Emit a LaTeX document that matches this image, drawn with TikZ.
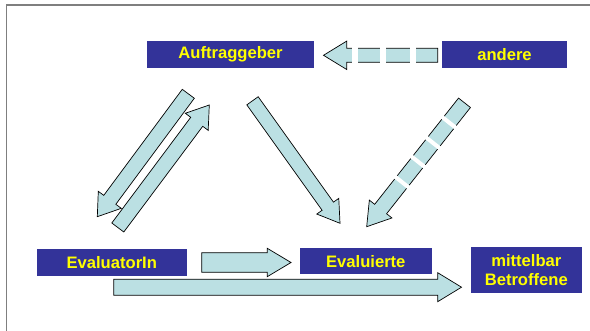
\documentclass[tikz,border=0pt]{standalone}
\usepackage{fontspec}
\setmainfont{Liberation Sans}
\usepackage{xcolor}
\usetikzlibrary{calc, positioning}

\definecolor{boxblue}{HTML}{333399}
\definecolor{boxtext}{HTML}{FFFF00}
\definecolor{arrowfill}{HTML}{BBE0E3}
\definecolor{framegray}{HTML}{7F7F7F}

% block arrow: [style]{from}{to}{shaft half width}{head half width}{head length}
\newcommand{\blockarrow}[6][]{%
  \path ($(#3)!#6!(#2)$) coordinate (hb);
  \draw[barrow, #1] ($(#2)!#4!90:(#3)$) -- ($(hb)!#4!-90:(#2)$) -- ($(hb)!#5!-90:(#2)$) -- (#3)
    -- ($(hb)!#5!90:(#2)$) -- ($(hb)!#4!90:(#2)$) -- ($(#2)!#4!-90:(#3)$) -- cycle;
}
% white gaps across a shaft: {from}{to}{half length}{gap width}{distances from tail}
\newcommand{\arrowgaps}[5]{%
  \foreach \d in {#5} {
    \draw[white, line width=#4] ($($(#1)!\d!(#2)$)!#3!90:(#2)$) -- ($($(#1)!\d!(#2)$)!#3!-90:(#2)$);
  }
}

\begin{document}
\begin{tikzpicture}[x=1pt, y=-1pt,
    box/.style={fill=boxblue, text=boxtext, font=\bfseries\fontsize{16.6}{18.7}\selectfont,
                inner sep=0pt, align=center},
    barrow/.style={fill=arrowfill, draw=black, line width=0.7pt, line join=miter}]
    \useasboundingbox (0,0) rectangle (590,331);

    % --- Frame ---
    \draw[framegray, line width=1.2pt] (6.7,331) -- (6.7,5) -- (590,5);

    % --- Boxes ---
    \node[box, minimum width=167pt, minimum height=27pt] (auftraggeber) at (230.5,54.5) {Auftraggeber};
    \node[box, minimum width=125pt, minimum height=27pt] (andere) at (504.5,54.5) {andere};
    \node[box, minimum width=150pt, minimum height=26.7pt] (evaluatorin) at (111.8,262.3) {EvaluatorIn};
    \node[box, minimum width=131.7pt, minimum height=26pt] (evaluierte) at (365.8,261.3) {Evaluierte};
    \node[box, minimum width=110.7pt, minimum height=46.6pt] (betroffene) at (526.3,270) {mittelbar\\Betroffene};

    % --- Arrow ends ---
    \coordinate (andere_tail) at (437.7,55.3);
    \coordinate (auftr_tip) at (323.5,55.3);
    \coordinate (auftr_down) at (188.3,93.8);
    \coordinate (evalin_tip) at (97.3,216.7);
    \coordinate (evalin_up) at (117.8,227.5);
    \coordinate (auftr_tip2) at (209.3,105);
    \coordinate (auftr_right) at (252.5,100.8);
    \coordinate (evalte_tip) at (340,223.3);
    \coordinate (andere_down) at (464.5,102.8);
    \coordinate (evalte_tip2) at (366.7,226.7);
    \coordinate (evalin_right) at (201.7,262.5);
    \coordinate (evalte_left) at (291,262.5);
    \coordinate (evalin_long) at (113.8,287.2);
    \coordinate (betr_tip) at (461.5,287.2);

    % --- Dashed arrows from andere ---
    \blockarrow{andere_tail}{auftr_tip}{7pt}{14.2pt}{23.2pt}
    \arrowgaps{andere_tail}{auftr_tip}{9pt}{6pt}{24.7pt,54.7pt,82.7pt}
    \blockarrow{andere_down}{evalte_tip2}{7.6pt}{14.4pt}{22.5pt}
    \arrowgaps{andere_down}{evalte_tip2}{9.5pt}{4pt}{25pt,51pt,75pt,101pt}

    % --- Auftraggeber <-> EvaluatorIn ---
    \blockarrow{auftr_down}{evalin_tip}{7.5pt}{14.3pt}{21pt}
    \blockarrow{evalin_up}{auftr_tip2}{7.5pt}{14.3pt}{21pt}

    % --- Towards Evaluierte ---
    \blockarrow{auftr_right}{evalte_tip}{7pt}{13.5pt}{21pt}
    \blockarrow{evalin_right}{evalte_left}{9.8pt}{14.2pt}{23.7pt}

    % --- Towards mittelbar Betroffene ---
    \blockarrow{evalin_long}{betr_tip}{8pt}{14.5pt}{23.8pt}
\end{tikzpicture}
\end{document}
